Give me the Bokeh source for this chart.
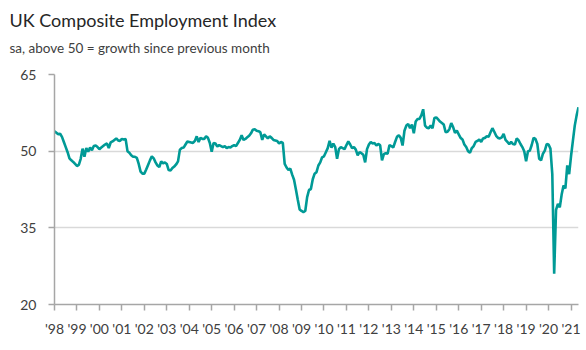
import numpy as np
from bokeh.plotting import figure
from bokeh.models import Range1d, FixedTicker, Title, ColumnDataSource
from bokeh.embed import file_html
from bokeh.resources import INLINE

title_text = "UK Composite Employment Index"
subtitle_text = "sa, above 50 = growth since previous month"

start_year = 1998
# Monthly index values, Jan 1998 - May 2021
v1998 = [53.9, 53.6, 53.3, 53.4, 52.8, 51.8, 50.8, 49.8, 48.6, 48.2, 47.9, 47.5]
v1999 = [47.1, 47.3, 48.5, 50.5, 48.9, 50.6, 49.9, 50.7, 50.2, 51.0, 51.1, 50.8]
v2000 = [50.4, 50.7, 51.0, 51.3, 51.5, 50.6, 51.7, 51.9, 52.2, 52.5, 52.1, 52.0]
v2001 = [52.4, 52.3, 52.4, 50.0, 49.7, 49.2, 48.9, 48.9, 48.7, 47.5, 46.0, 45.6]
v2002 = [45.6, 46.4, 47.3, 48.2, 49.0, 48.6, 47.8, 47.2, 46.9, 48.0, 47.6, 47.8]
v2003 = [47.5, 46.3, 46.2, 46.7, 47.0, 47.4, 48.0, 50.3, 50.6, 50.7, 51.3, 51.9]
v2004 = [51.8, 51.7, 51.6, 52.0, 52.9, 51.8, 52.6, 52.4, 52.4, 52.9, 52.6, 51.6]
v2005 = [49.9, 51.6, 51.5, 50.9, 51.2, 51.0, 50.8, 51.0, 50.6, 50.8, 50.7, 51.0]
v2006 = [51.2, 51.0, 51.6, 52.2, 53.1, 52.2, 52.4, 52.7, 53.0, 53.5, 54.2, 54.3]
v2007 = [54.0, 53.9, 53.7, 52.2, 53.3, 52.9, 52.5, 52.9, 52.6, 52.2, 52.1, 52.0]
v2008 = [51.5, 51.8, 51.6, 47.5, 46.8, 46.3, 46.6, 45.4, 44.4, 42.5, 40.5, 38.6]
v2009 = [38.3, 38.1, 38.3, 41.0, 42.4, 42.6, 44.5, 45.6, 45.9, 47.2, 47.8, 48.8]
v2010 = [49.0, 49.8, 50.6, 52.0, 50.7, 51.5, 50.8, 48.5, 50.4, 50.8, 50.6, 50.4]
v2011 = [51.2, 51.9, 51.3, 50.6, 50.8, 50.3, 49.2, 49.8, 49.6, 49.3, 47.8, 50.4]
v2012 = [51.3, 51.8, 51.5, 51.6, 51.1, 51.4, 51.2, 48.2, 49.4, 49.6, 49.5, 51.2]
v2013 = [51.0, 50.7, 51.8, 52.8, 53.1, 52.6, 51.1, 54.0, 55.0, 55.3, 54.5, 55.2]
v2014 = [53.5, 55.8, 56.3, 56.3, 57.0, 58.2, 55.0, 54.6, 54.5, 55.0, 54.5, 56.5]
v2015 = [56.6, 56.2, 55.8, 55.5, 55.2, 53.7, 53.8, 54.3, 55.5, 54.7, 53.6, 54.0]
v2016 = [53.3, 52.6, 52.3, 51.3, 50.8, 50.0, 49.7, 50.6, 51.0, 51.8, 52.0, 52.3]
v2017 = [51.8, 52.5, 52.6, 52.9, 52.8, 53.7, 54.5, 53.8, 53.0, 52.6, 52.5, 52.7]
v2018 = [53.4, 52.2, 51.8, 51.4, 51.8, 51.4, 51.3, 52.5, 52.1, 51.4, 50.8, 50.0]
v2019 = [48.0, 50.0, 50.1, 51.2, 52.6, 52.4, 51.4, 48.5, 48.2, 49.5, 50.1, 51.4]
v2020 = [51.3, 50.5, 45.5, 26.0, 38.5, 39.7, 39.0, 41.5, 43.3, 42.7, 47.2, 45.5]
v2021 = [49.0, 52.0, 55.0, 57.0, 58.6]

values = (v1998 + v1999 + v2000 + v2001 + v2002 + v2003 + v2004 + v2005 +
          v2006 + v2007 + v2008 + v2009 + v2010 + v2011 + v2012 + v2013 +
          v2014 + v2015 + v2016 + v2017 + v2018 + v2019 + v2020 + v2021)
x_vals = [start_year + i / 12.0 for i in range(len(values))]

tick_years = list(range(1998, 2022))
tick_labels = ["'98", "'99", "'00", "'01", "'02", "'03", "'04", "'05", "'06", "'07",
               "'08", "'09", "'10", "'11", "'12", "'13", "'14", "'15", "'16", "'17",
               "'18", "'19", "'20", "'21"]
y_ticks = [20, 35, 50, 65]

FONT = "Lato"
TXT = "#404040"
AX = "#a6a6a6"

src = ColumnDataSource(dict(x=x_vals, y=values))

p = figure(width=586, height=350, output_backend="svg", toolbar_location=None,
           x_range=Range1d(start_year, x_vals[-1]), y_range=Range1d(20, 65),
           min_border_left=54, min_border_right=8, min_border_top=74,
           min_border_bottom=46)
p.outline_line_color = None
p.background_fill_color = "white"
p.border_fill_color = "white"

p.line("x", "y", source=src, line_color="#009a96", line_width=2.6)

sub = Title(text=subtitle_text, align="left", text_font=FONT, text_font_size="13.5px",
            text_font_style="normal", text_color="#404040", offset=-45, standoff=37)
main = Title(text=title_text, align="left", text_font=FONT, text_font_size="18px",
             text_font_style="normal", text_color="#262626", offset=-45, standoff=-22)
p.add_layout(sub, "above")
p.add_layout(main, "above")

p.xaxis.ticker = FixedTicker(ticks=tick_years)
p.xaxis.major_label_overrides = {y: l for y, l in zip(tick_years, tick_labels)}
p.yaxis.ticker = FixedTicker(ticks=y_ticks)

for ax in (p.xaxis[0], p.yaxis[0]):
    ax.axis_line_color = AX
    ax.axis_line_width = 1.5
    ax.major_tick_line_color = AX
    ax.major_tick_line_width = 1.5
    ax.major_tick_in = 0
    ax.major_tick_out = 6
    ax.minor_tick_line_color = None
    ax.major_label_text_font = FONT
    ax.major_label_text_font_size = "14px"
    ax.major_label_text_color = TXT
p.xaxis.major_label_standoff = 9
p.yaxis.major_label_standoff = 12

p.xgrid.grid_line_color = None
p.ygrid.grid_line_color = "#d9d9d9"
p.ygrid.grid_line_width = 1.5

open("out.html", "w").write(file_html(p, INLINE))
